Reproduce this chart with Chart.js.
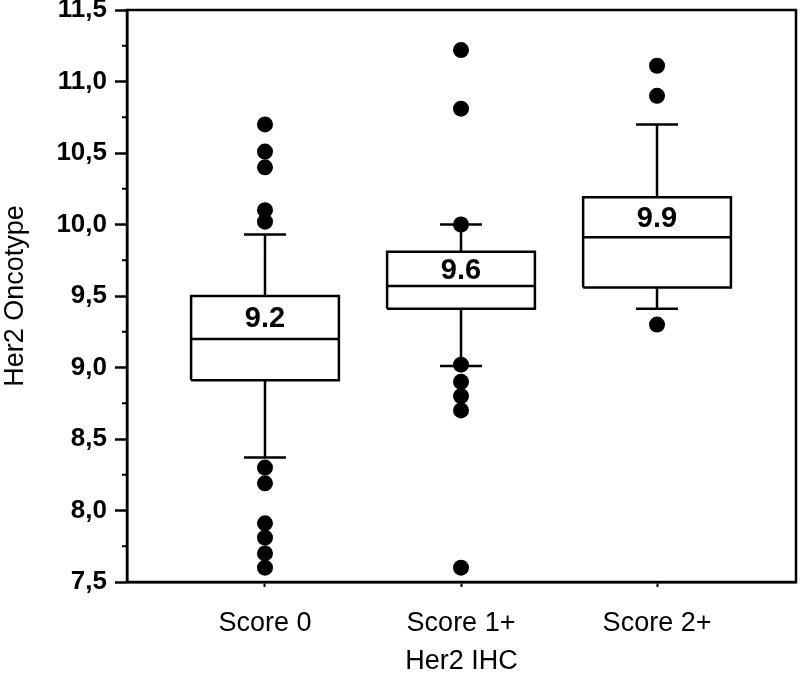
<!DOCTYPE html>
<html lang="en">
<head>
<meta charset="UTF-8">
<title>Her2 Oncotype by Her2 IHC</title>
<script src="https://cdn.jsdelivr.net/npm/chart.js"></script>
<style>
  html, body { margin: 0; padding: 0; background: #fff; }
  #wrap { width: 800px; height: 674px; }
</style>
</head>
<body>
<div id="wrap"><canvas id="boxChart"></canvas></div>
<script>
// values
const categories = ['Score 0', 'Score 1+', 'Score 2+'];
const q1 = [8.91, 9.41, 9.56];
const medians = [9.2, 9.57, 9.91];
const q3 = [9.5, 9.81, 10.19];
const whiskerLow = [8.37, 9.01, 9.41];
const whiskerHigh = [9.93, 10.0, 10.7];
const medianLabels = ['9.2', '9.6', '9.9'];
const outliers = [
    [10.7, 10.51, 10.4, 10.1, 10.02, 8.3, 8.19, 7.91, 7.81, 7.7, 7.6],
    [11.22, 10.81, 10.0, 9.02, 8.9, 8.8, 8.7, 7.6],
    [11.11, 10.9, 9.3]
];
const yTicks = [7.5, 8.0, 8.5, 9.0, 9.5, 10.0, 10.5, 11.0, 11.5];

const BOX_HALF = 0.377;
const CAP_HALF = 0.107;
const FONT = '"Liberation Sans", Arial, sans-serif';

// box outlines, medians and whiskers as one broken line (null = gap)
const boxPoints = [];
categories.forEach((c, i) => {
    const x = i + 1;
    const gap = { x: x, y: null };
    boxPoints.push(
        { x: x - BOX_HALF, y: q1[i] }, { x: x + BOX_HALF, y: q1[i] },
        { x: x + BOX_HALF, y: q3[i] }, { x: x - BOX_HALF, y: q3[i] },
        { x: x - BOX_HALF, y: q1[i] }, gap,
        { x: x - BOX_HALF, y: medians[i] }, { x: x + BOX_HALF, y: medians[i] }, gap,
        { x: x, y: q3[i] }, { x: x, y: whiskerHigh[i] }, gap,
        { x: x - CAP_HALF, y: whiskerHigh[i] }, { x: x + CAP_HALF, y: whiskerHigh[i] }, gap,
        { x: x, y: q1[i] }, { x: x, y: whiskerLow[i] }, gap,
        { x: x - CAP_HALF, y: whiskerLow[i] }, { x: x + CAP_HALF, y: whiskerLow[i] }, gap
    );
});

const outlierPoints = [];
outliers.forEach((list, i) => {
    list.forEach(v => outlierPoints.push({ x: i + 1, y: v }));
});

// frame round the plot + minor y ticks
const framePlugin = {
    id: 'frame',
    beforeDatasetsDraw(chart) {
        const { ctx, chartArea: a, scales: { y } } = chart;
        ctx.save();
        ctx.strokeStyle = '#000';
        ctx.lineWidth = 2.5;
        ctx.strokeRect(a.left, a.top, a.right - a.left, a.bottom - a.top);
        ctx.lineWidth = 2;
        for (let k = 0; k < yTicks.length - 1; k++) {
            const py = y.getPixelForValue((yTicks[k] + yTicks[k + 1]) / 2);
            ctx.beginPath();
            ctx.moveTo(a.left - 5, py);
            ctx.lineTo(a.left, py);
            ctx.stroke();
        }
        ctx.restore();
    }
};

// median value written inside each box
const medianLabelPlugin = {
    id: 'medianLabels',
    afterDatasetsDraw(chart) {
        const { ctx, scales: { x, y } } = chart;
        ctx.save();
        ctx.fillStyle = '#000';
        ctx.font = 'bold 29px ' + FONT;
        ctx.textAlign = 'center';
        ctx.textBaseline = 'middle';
        medianLabels.forEach((t, i) => {
            const px = x.getPixelForValue(i + 1);
            const py = (y.getPixelForValue(q3[i]) + y.getPixelForValue(medians[i])) / 2 + 2;
            ctx.fillText(t, px, py);
        });
        ctx.restore();
    }
};

new Chart(document.getElementById('boxChart'), {
    type: 'line',
    data: {
        datasets: [{
            data: boxPoints,
            borderColor: '#000',
            borderWidth: 2.5,
            pointRadius: 0,
            fill: false,
            tension: 0,
            spanGaps: false
        }, {
            type: 'scatter',
            data: outlierPoints,
            backgroundColor: '#000',
            borderWidth: 0,
            pointRadius: 8,
            showLine: false
        }]
    },
    options: {
        responsive: true,
        maintainAspectRatio: false,
        animation: false,
        layout: { autoPadding: false, padding: { top: 10, right: 4, bottom: 0, left: 0 } },
        plugins: {
            legend: { display: false },
            tooltip: { enabled: false }
        },
        scales: {
            x: {
                type: 'linear',
                min: 0.296,
                max: 3.709,
                afterBuildTicks: (scale) => {
                    scale.ticks = categories.map((c, i) => ({ value: i + 1 }));
                },
                afterFit: (scale) => {
                    scale.height = 92;
                    scale.paddingLeft = 0;
                    scale.paddingRight = 0;
                },
                grid: { drawOnChartArea: false, tickLength: 5, tickWidth: 2, tickColor: '#000' },
                border: { color: '#000', width: 2.5 },
                ticks: {
                    autoSkip: false,
                    maxRotation: 0,
                    padding: 23,
                    color: '#000',
                    font: { family: FONT, size: 27, lineHeight: 1 },
                    callback: (v) => categories[v - 1] || ''
                },
                title: {
                    display: true,
                    text: 'Her2 IHC',
                    color: '#000',
                    font: { family: FONT, size: 27, lineHeight: 1 },
                    padding: { top: 0, bottom: -1 }
                }
            },
            y: {
                min: 7.5,
                max: 11.5,
                afterBuildTicks: (scale) => {
                    scale.ticks = yTicks.map(v => ({ value: v }));
                },
                afterFit: (scale) => {
                    scale.width = 127;
                    scale.paddingTop = 0;
                    scale.paddingBottom = 0;
                },
                grid: { drawOnChartArea: false, tickLength: 12, tickWidth: 2.5, tickColor: '#000' },
                border: { color: '#000', width: 2.5 },
                ticks: {
                    padding: 8,
                    color: '#000',
                    font: { family: FONT, size: 26, weight: 'bold', lineHeight: 1 },
                    callback: (v) => v.toFixed(1).replace('.', ',')
                },
                title: {
                    display: true,
                    text: 'Her2 Oncotype',
                    color: '#000',
                    font: { family: FONT, size: 27, lineHeight: 1 },
                    padding: { top: 2, bottom: 0 }
                }
            }
        }
    },
    plugins: [framePlugin, medianLabelPlugin]
});
</script>
</body>
</html>
